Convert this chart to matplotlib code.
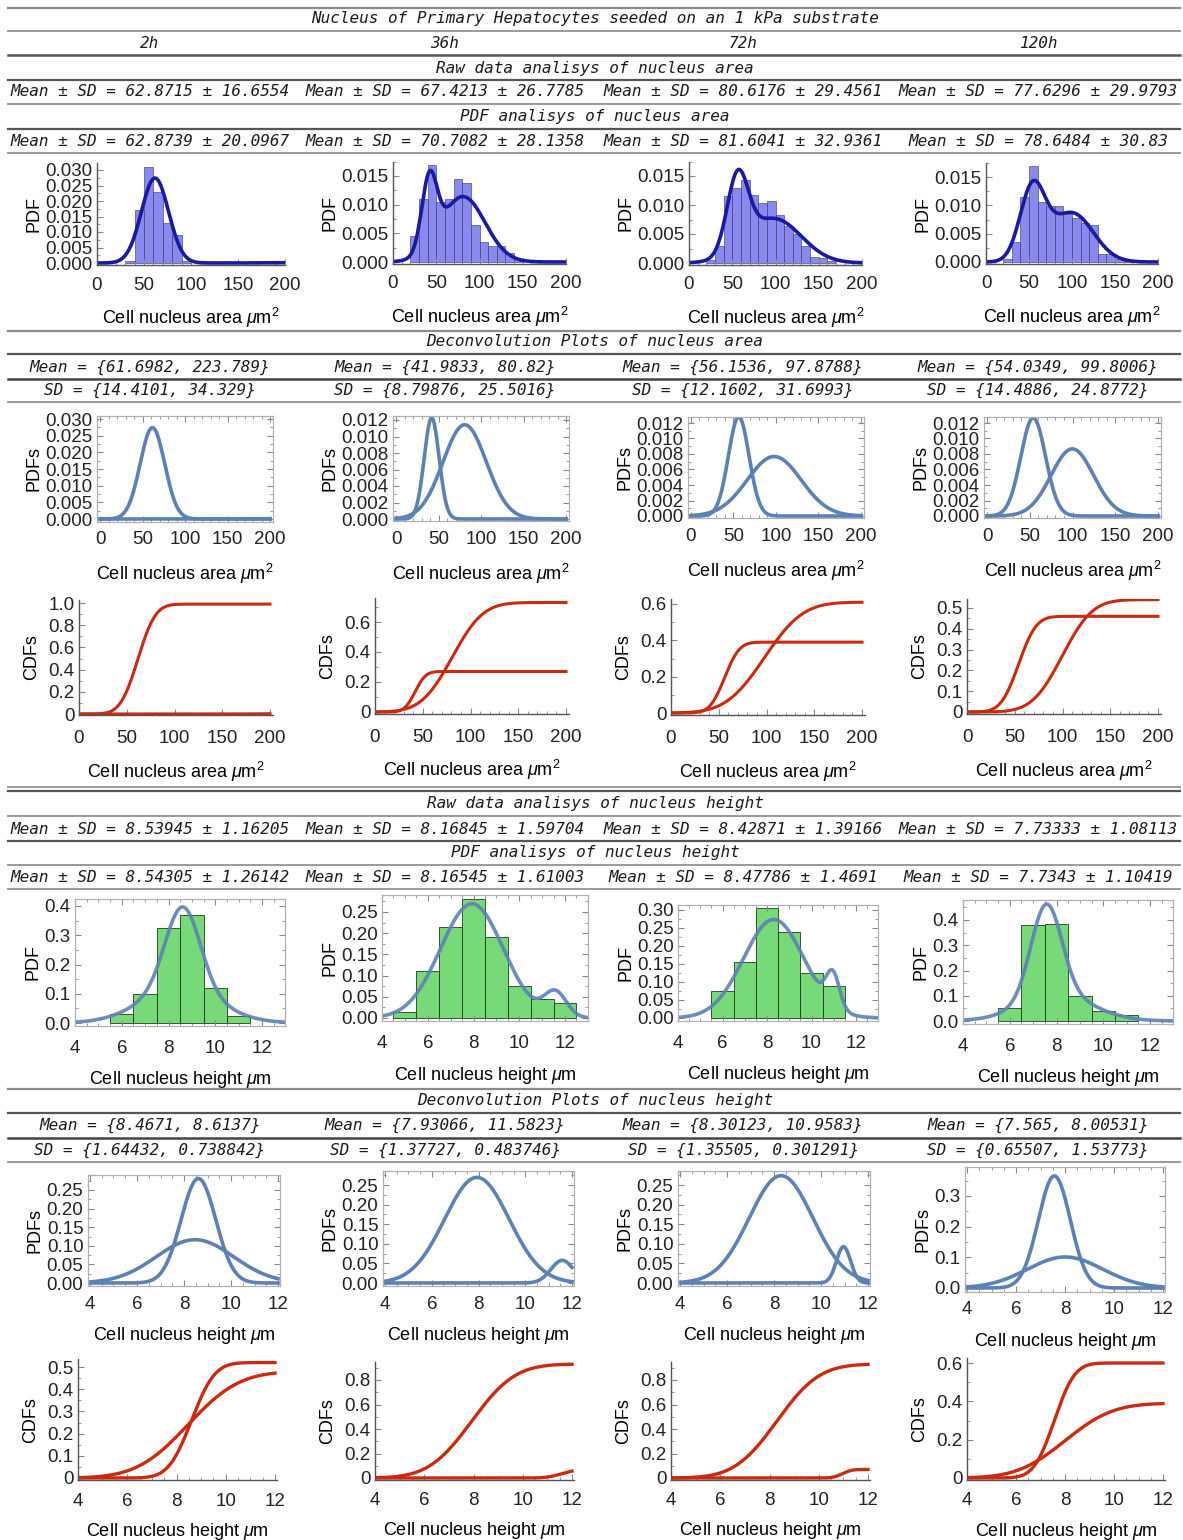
import numpy as np
import matplotlib
matplotlib.use("Agg")
import matplotlib.pyplot as plt
from matplotlib.lines import Line2D
from matplotlib.ticker import FuncFormatter, AutoMinorLocator

plt.rcParams['font.family'] = ['Liberation Sans', 'DejaVu Sans']
plt.rcParams['mathtext.fontset'] = 'custom'
plt.rcParams['mathtext.rm'] = 'Liberation Sans'
plt.rcParams['mathtext.it'] = 'Liberation Sans:italic'

W, H = 1183, 1540

# ---------------- data ----------------
times = ["2h", "36h", "72h", "120h"]
title = "Nucleus of Primary Hepatocytes seeded on an 1 kPa substrate"

raw_area_mean = [62.8715, 67.4213, 80.6176, 77.6296]
raw_area_sd = [16.6554, 26.7785, 29.4561, 29.9793]
pdf_area_mean = [62.8739, 70.7082, 81.6041, 78.6484]
pdf_area_sd = [20.0967, 28.1358, 32.9361, 30.83]
dec_area_mean = [[61.6982, 223.789], [41.9833, 80.82], [56.1536, 97.8788], [54.0349, 99.8006]]
dec_area_sd = [[14.4101, 34.329], [8.79876, 25.5016], [12.1602, 31.6993], [14.4886, 24.8772]]
dec_area_weight = [[0.99, 0.01], [0.27, 0.73], [0.39, 0.61], [0.46, 0.54]]

area_bin_width = 10
area_hist_start = [30, 20, 20, 20]
area_hist = [
    [0.0005, 0.017, 0.031, 0.023, 0.013, 0.009, 0.0005],
    [0.0045, 0.011, 0.017, 0.0105, 0.011, 0.0145, 0.0138, 0.0065, 0.0035, 0.0028, 0.0028, 0.0015, 0.0005],
    [0.0005, 0.003, 0.0115, 0.013, 0.0143, 0.0117, 0.0103, 0.0107, 0.0082, 0.0063, 0.005, 0.003, 0.001, 0.0008, 0.0003],
    [0.0005, 0.0035, 0.0115, 0.017, 0.0105, 0.0098, 0.0098, 0.0085, 0.0078, 0.0068, 0.0065, 0.0015, 0.0015, 0.0005, 0.0003],
]

raw_h_mean = [8.53945, 8.16845, 8.42871, 7.73333]
raw_h_sd = [1.16205, 1.59704, 1.39166, 1.08113]
pdf_h_mean = [8.54305, 8.16545, 8.47786, 7.7343]
pdf_h_sd = [1.26142, 1.61003, 1.4691, 1.10419]
dec_h_mean = [[8.4671, 8.6137], [7.93066, 11.5823], [8.30123, 10.9583], [7.565, 8.00531]]
dec_h_sd = [[1.64432, 0.738842], [1.37727, 0.483746], [1.35505, 0.301291], [0.65507, 1.53773]]
dec_h_weight = [[0.48, 0.52], [0.93, 0.07], [0.93, 0.07], [0.60, 0.39]]

h_bin_width = 1
h_hist_start = [5.5, 4.5, 5.5, 5.5]
h_hist = [
    [0.03, 0.10, 0.325, 0.37, 0.12, 0.025],
    [0.015, 0.11, 0.215, 0.28, 0.19, 0.075, 0.045, 0.035],
    [0.075, 0.155, 0.305, 0.24, 0.125, 0.09],
    [0.05, 0.38, 0.385, 0.10, 0.04, 0.025],
]

# ---------------- helpers ----------------
fig = plt.figure(figsize=(W / 100, H / 100), dpi=100)


def norm_pdf(x, m, s):
    return np.exp(-0.5 * ((x - m) / s) ** 2) / (s * np.sqrt(2 * np.pi))


def norm_cdf(x, m, s):
    from math import erf
    return np.array([0.5 * (1 + erf((v - m) / (s * np.sqrt(2)))) for v in x])


def place(xa, ya, xlim, ylim):
    xv0, xp0, xv1, xp1 = xa
    yv0, yp0, yv1, yp1 = ya
    sx = (xp1 - xp0) / (xv1 - xv0)
    sy = (yp1 - yp0) / (yv1 - yv0)
    left = xp0 + (xlim[0] - xv0) * sx
    right = xp0 + (xlim[1] - xv0) * sx
    bottom = yp0 + (ylim[0] - yv0) * sy
    top = yp0 + (ylim[1] - yv0) * sy
    ax = fig.add_axes([left / W, 1 - bottom / H, (right - left) / W, (bottom - top) / H])
    ax.set_xlim(*xlim)
    ax.set_ylim(*ylim)
    return ax


def hline(y, lw=1.4, color="#9a9a9a"):
    fig.add_artist(Line2D([8 / W, 1180 / W], [1 - y / H, 1 - y / H], color=color, lw=lw))


mono = dict(family="DejaVu Sans Mono", style="italic", fontsize=11.5, color="#1a1a1a")


def txt(x, y, s, ha="center"):
    fig.text(x / W, 1 - y / H, s, ha=ha, va="center", **mono)


def style_frame(ax, framed, xticks, yticks, yfmt, xpad=7):
    ax.set_xticks(xticks)
    ax.set_yticks(yticks)
    ax.yaxis.set_major_formatter(FuncFormatter(yfmt))
    ax.tick_params(labelsize=13.5, length=4, width=0.8, direction="in", pad=3,
                   colors="#888888", labelcolor="#222222")
    ax.tick_params(axis="x", pad=xpad)
    ax.tick_params(which="minor", length=2, width=0.6, direction="in", colors="#888888")
    ax.xaxis.set_minor_locator(AutoMinorLocator(5))
    ax.yaxis.set_minor_locator(AutoMinorLocator(2))
    if framed:
        for sp in ax.spines.values():
            sp.set_color("#b0b0b0")
            sp.set_linewidth(0.9)
        ax.tick_params(which="both", top=True, right=True)
    else:
        ax.spines["top"].set_visible(False)
        ax.spines["right"].set_visible(False)
        for k in ("left", "bottom"):
            ax.spines[k].set_color("#555555")
            ax.spines[k].set_linewidth(1.0)
    ax.patch.set_alpha(0)


f3 = lambda v, p: f"{v:.3f}"
f2 = lambda v, p: f"{v:.2f}"
f1 = lambda v, p: f"{v:.1f}"
fc = lambda v, p: "0" if abs(v) < 1e-9 else f"{v:.1f}"

col_c = [150, 445, 743, 1038]
area_label = r"Cell nucleus area $\mu$m$^2$"
h_label = r"Cell nucleus height $\mu$m"
lab_fs = 13

# ---------------- text table ----------------
for y, lw, c in [(8, 1.6, "#8a8a8a"), (31, 1.4, "#9a9a9a"), (55, 1.8, "#555555"), (80, 1.6, "#555555"),
                 (104, 1.4, "#9a9a9a"), (129, 1.6, "#555555"), (153, 1.4, "#9a9a9a"),
                 (331, 1.6, "#8a8a8a"), (354, 1.6, "#555555"), (379, 1.8, "#444444"), (402, 1.4, "#9a9a9a"),
                 (787, 1.4, "#9a9a9a"), (791, 1.6, "#555555"), (816, 1.4, "#9a9a9a"), (841, 1.6, "#555555"),
                 (865, 1.4, "#9a9a9a"), (889, 1.4, "#9a9a9a"),
                 (1089, 1.6, "#8a8a8a"), (1113, 1.6, "#555555"), (1138, 1.8, "#444444"), (1162, 1.4, "#9a9a9a")]:
    hline(y, lw, c)

txt(595, 19, title)
for i, t in enumerate(times):
    txt(col_c[i], 43, t)
txt(595, 68, "Raw data analisys of nucleus area")
txt(595, 117, "PDF analisys of nucleus area")
txt(595, 342, "Deconvolution Plots of nucleus area")
txt(595, 804, "Raw data analisys of nucleus height")
txt(595, 853, "PDF analisys of nucleus height")
txt(595, 1101, "Deconvolution Plots of nucleus height")


def fmt_list(vals):
    return "{" + ", ".join(str(v) for v in vals) + "}"


for i in range(4):
    txt(col_c[i], 92, f"Mean ± SD = {raw_area_mean[i]} ± {raw_area_sd[i]}")
    txt(col_c[i], 141, f"Mean ± SD = {pdf_area_mean[i]} ± {pdf_area_sd[i]}")
    txt(col_c[i], 367, f"Mean = {fmt_list(dec_area_mean[i])}")
    txt(col_c[i], 390, f"SD = {fmt_list(dec_area_sd[i])}")
    txt(col_c[i], 829, f"Mean ± SD = {raw_h_mean[i]} ± {raw_h_sd[i]}")
    txt(col_c[i], 877, f"Mean ± SD = {pdf_h_mean[i]} ± {pdf_h_sd[i]}")
    txt(col_c[i], 1125, f"Mean = {fmt_list(dec_h_mean[i])}")
    txt(col_c[i], 1150, f"SD = {fmt_list(dec_h_sd[i])}")

# ---------------- area histograms ----------------
area_hist_pos = [
    ((0, 97, 200, 285), (0, 263, 0.03, 170), (-0.0008, 0.0323)),
    ((0, 393, 200, 566), (0, 262, 0.015, 176), (-0.0004, 0.0175)),
    ((0, 689, 200, 862), (0, 263, 0.015, 176), (-0.0004, 0.0175)),
    ((0, 986, 200, 1158), (0, 262, 0.015, 177), (-0.0004, 0.0175)),
]
xa = np.linspace(0, 200, 600)
for i in range(4):
    xp, yp, yl = area_hist_pos[i]
    ax = place(xp, yp, (0, 200), yl)
    hv = np.array(area_hist[i])
    lefts = area_hist_start[i] + area_bin_width * np.arange(len(hv))
    ax.bar(lefts, hv, width=area_bin_width, align="edge", color="#7575ee", alpha=0.85,
           edgecolor="#3a3a70", linewidth=0.5)
    pdf = sum(w * norm_pdf(xa, m, s) for w, m, s in zip(dec_area_weight[i], dec_area_mean[i], dec_area_sd[i]))
    ax.plot(xa, pdf, color="#1a1aa0", lw=2.6)
    yt = np.arange(0, 0.0301, 0.005) if i == 0 else np.arange(0, 0.0151, 0.005)
    style_frame(ax, False, [0, 50, 100, 150, 200], yt, f3, xpad=8)
    ax.set_ylabel("PDF", fontsize=lab_fs, labelpad=2)
    ax.set_xlabel(area_label, fontsize=lab_fs, labelpad=9)

# ---------------- area deconvolution PDFs ----------------
area_dpdf_pos = [
    ((0, 100, 200, 270), (0, 519, 0.03, 419), (-0.0008, 0.0310)),
    ((0, 396, 200, 566), (0, 519, 0.012, 420), (-0.0003, 0.0125)),
    ((0, 691, 200, 861), (0, 516, 0.012, 423), (-0.0003, 0.0128)),
    ((0, 987, 200, 1158), (0, 516, 0.012, 423), (-0.0003, 0.0128)),
]
for i in range(4):
    xp, yp, yl = area_dpdf_pos[i]
    ax = place(xp, yp, (-4, 204), yl)
    for w, m, s in zip(dec_area_weight[i], dec_area_mean[i], dec_area_sd[i]):
        ax.plot(xa, w * norm_pdf(xa, m, s), color="#5e81b5", lw=2.6)
    yt = np.arange(0, 0.0301, 0.005) if i == 0 else np.arange(0, 0.01201, 0.002)
    style_frame(ax, True, [0, 50, 100, 150, 200], yt, f3, xpad=7)
    ax.set_ylabel("PDFs", fontsize=lab_fs, labelpad=2)
    ax.set_xlabel(area_label, fontsize=lab_fs, labelpad=10)

# ---------------- area CDFs ----------------
area_cdf_pos = [
    ((0, 79, 200, 270), (0, 714, 1.0, 603), (-0.01, 1.03), [0, 0.2, 0.4, 0.6, 0.8, 1.0]),
    ((0, 375, 200, 566), (0, 712, 0.6, 622), (-0.01, 0.76), [0, 0.2, 0.4, 0.6]),
    ((0, 671, 200, 862), (0, 713, 0.6, 604), (-0.01, 0.625), [0, 0.2, 0.4, 0.6]),
    ((0, 967, 200, 1158), (0, 712, 0.5, 608), (-0.01, 0.545), [0, 0.1, 0.2, 0.3, 0.4, 0.5]),
]
for i in range(4):
    xp, yp, yl, yt = area_cdf_pos[i]
    ax = place(xp, yp, (0, 203), yl)
    for w, m, s in zip(dec_area_weight[i], dec_area_mean[i], dec_area_sd[i]):
        ax.plot(xa, w * norm_cdf(xa, m, s), color="#cc2a10", lw=2.2)
    style_frame(ax, False, [0, 50, 100, 150, 200], yt, fc, xpad=11)
    ax.set_ylabel("CDFs", fontsize=lab_fs, labelpad=6)
    ax.set_xlabel(area_label, fontsize=lab_fs, labelpad=9)

# ---------------- height histograms ----------------
h_hist_pos = [
    ((4, 75, 12, 262), (0, 1023, 0.4, 906), (-0.01, 0.425), [0, 0.1, 0.2, 0.3, 0.4], f1),
    ((4, 382, 12, 565), (0, 1018, 0.25, 912), (-0.008, 0.29), [0, 0.05, 0.1, 0.15, 0.2, 0.25], f2),
    ((4, 678, 12, 856), (0, 1018, 0.30, 910), (-0.008, 0.315), [0, 0.05, 0.1, 0.15, 0.2, 0.25, 0.3], f2),
    ((4, 963, 12, 1150), (0, 1021, 0.4, 920), (-0.012, 0.48), [0, 0.1, 0.2, 0.3, 0.4], f1),
]
xh = np.linspace(4, 13, 600)
for i in range(4):
    xp, yp, yl, yt, ff = h_hist_pos[i]
    ax = place(xp, yp, (4, 13), yl)
    hv = np.array(h_hist[i])
    lefts = h_hist_start[i] + h_bin_width * np.arange(len(hv))
    ax.bar(lefts, hv, width=h_bin_width, align="edge", color="#5fd35f", alpha=0.85,
           edgecolor="#1a3a1a", linewidth=0.7)
    pdf = sum(w * norm_pdf(xh, m, s) for w, m, s in zip(dec_h_weight[i], dec_h_mean[i], dec_h_sd[i]))
    ax.plot(xh, pdf, color="#5e81b5", lw=2.6, alpha=0.9)
    style_frame(ax, True, [4, 6, 8, 10, 12], yt, ff, xpad=10)
    ax.xaxis.set_minor_locator(AutoMinorLocator(4))
    ax.set_ylabel("PDF", fontsize=lab_fs, labelpad=2)
    ax.set_xlabel(h_label, fontsize=lab_fs, labelpad=9)

# ---------------- height deconvolution PDFs ----------------
h_dpdf_pos = [
    ((4, 90, 12, 278), (0, 1283, 0.25, 1190), (-0.008, 0.29), [0, 0.05, 0.1, 0.15, 0.2, 0.25], f2),
    ((4, 385, 12, 572), (0, 1283, 0.25, 1185), (-0.008, 0.285), [0, 0.05, 0.1, 0.15, 0.2, 0.25], f2),
    ((4, 680, 12, 868), (0, 1283, 0.25, 1185), (-0.008, 0.285), [0, 0.05, 0.1, 0.15, 0.2, 0.25], f2),
    ((4, 967, 12, 1163), (0, 1288, 0.3, 1196), (-0.012, 0.395), [0, 0.1, 0.2, 0.3], f1),
]
xh2 = np.linspace(4, 12, 500)
for i in range(4):
    xp, yp, yl, yt, ff = h_dpdf_pos[i]
    ax = place(xp, yp, (3.9, 12.1), yl)
    for w, m, s in zip(dec_h_weight[i], dec_h_mean[i], dec_h_sd[i]):
        ax.plot(xh2, w * norm_pdf(xh2, m, s), color="#5e81b5", lw=2.6)
    style_frame(ax, True, [4, 6, 8, 10, 12], yt, ff, xpad=7)
    ax.xaxis.set_minor_locator(AutoMinorLocator(4))
    ax.set_ylabel("PDFs", fontsize=lab_fs, labelpad=2)
    ax.set_xlabel(h_label, fontsize=lab_fs, labelpad=9)

# ---------------- height CDFs ----------------
h_cdf_pos = [
    ((4, 78, 12, 275), (0, 1478, 0.5, 1367), (-0.01, 0.535), [0, 0.1, 0.2, 0.3, 0.4, 0.5]),
    ((4, 375, 12, 572), (0, 1478, 0.8, 1380), (-0.015, 0.95), [0, 0.2, 0.4, 0.6, 0.8]),
    ((4, 671, 12, 868), (0, 1478, 0.8, 1380), (-0.015, 0.95), [0, 0.2, 0.4, 0.6, 0.8]),
    ((4, 967, 12, 1163), (0, 1478, 0.6, 1363), (-0.01, 0.625), [0, 0.2, 0.4, 0.6]),
]
for i in range(4):
    xp, yp, yl, yt = h_cdf_pos[i]
    ax = place(xp, yp, (4, 12.1), yl)
    for w, m, s in zip(dec_h_weight[i], dec_h_mean[i], dec_h_sd[i]):
        ax.plot(xh2, w * norm_cdf(xh2, m, s), color="#cc2a10", lw=2.4)
    style_frame(ax, False, [4, 6, 8, 10, 12], yt, fc, xpad=9)
    ax.xaxis.set_minor_locator(AutoMinorLocator(4))
    ax.set_ylabel("CDFs", fontsize=lab_fs, labelpad=6)
    ax.set_xlabel(h_label, fontsize=lab_fs, labelpad=8)

fig.savefig("out.png", dpi=100)
